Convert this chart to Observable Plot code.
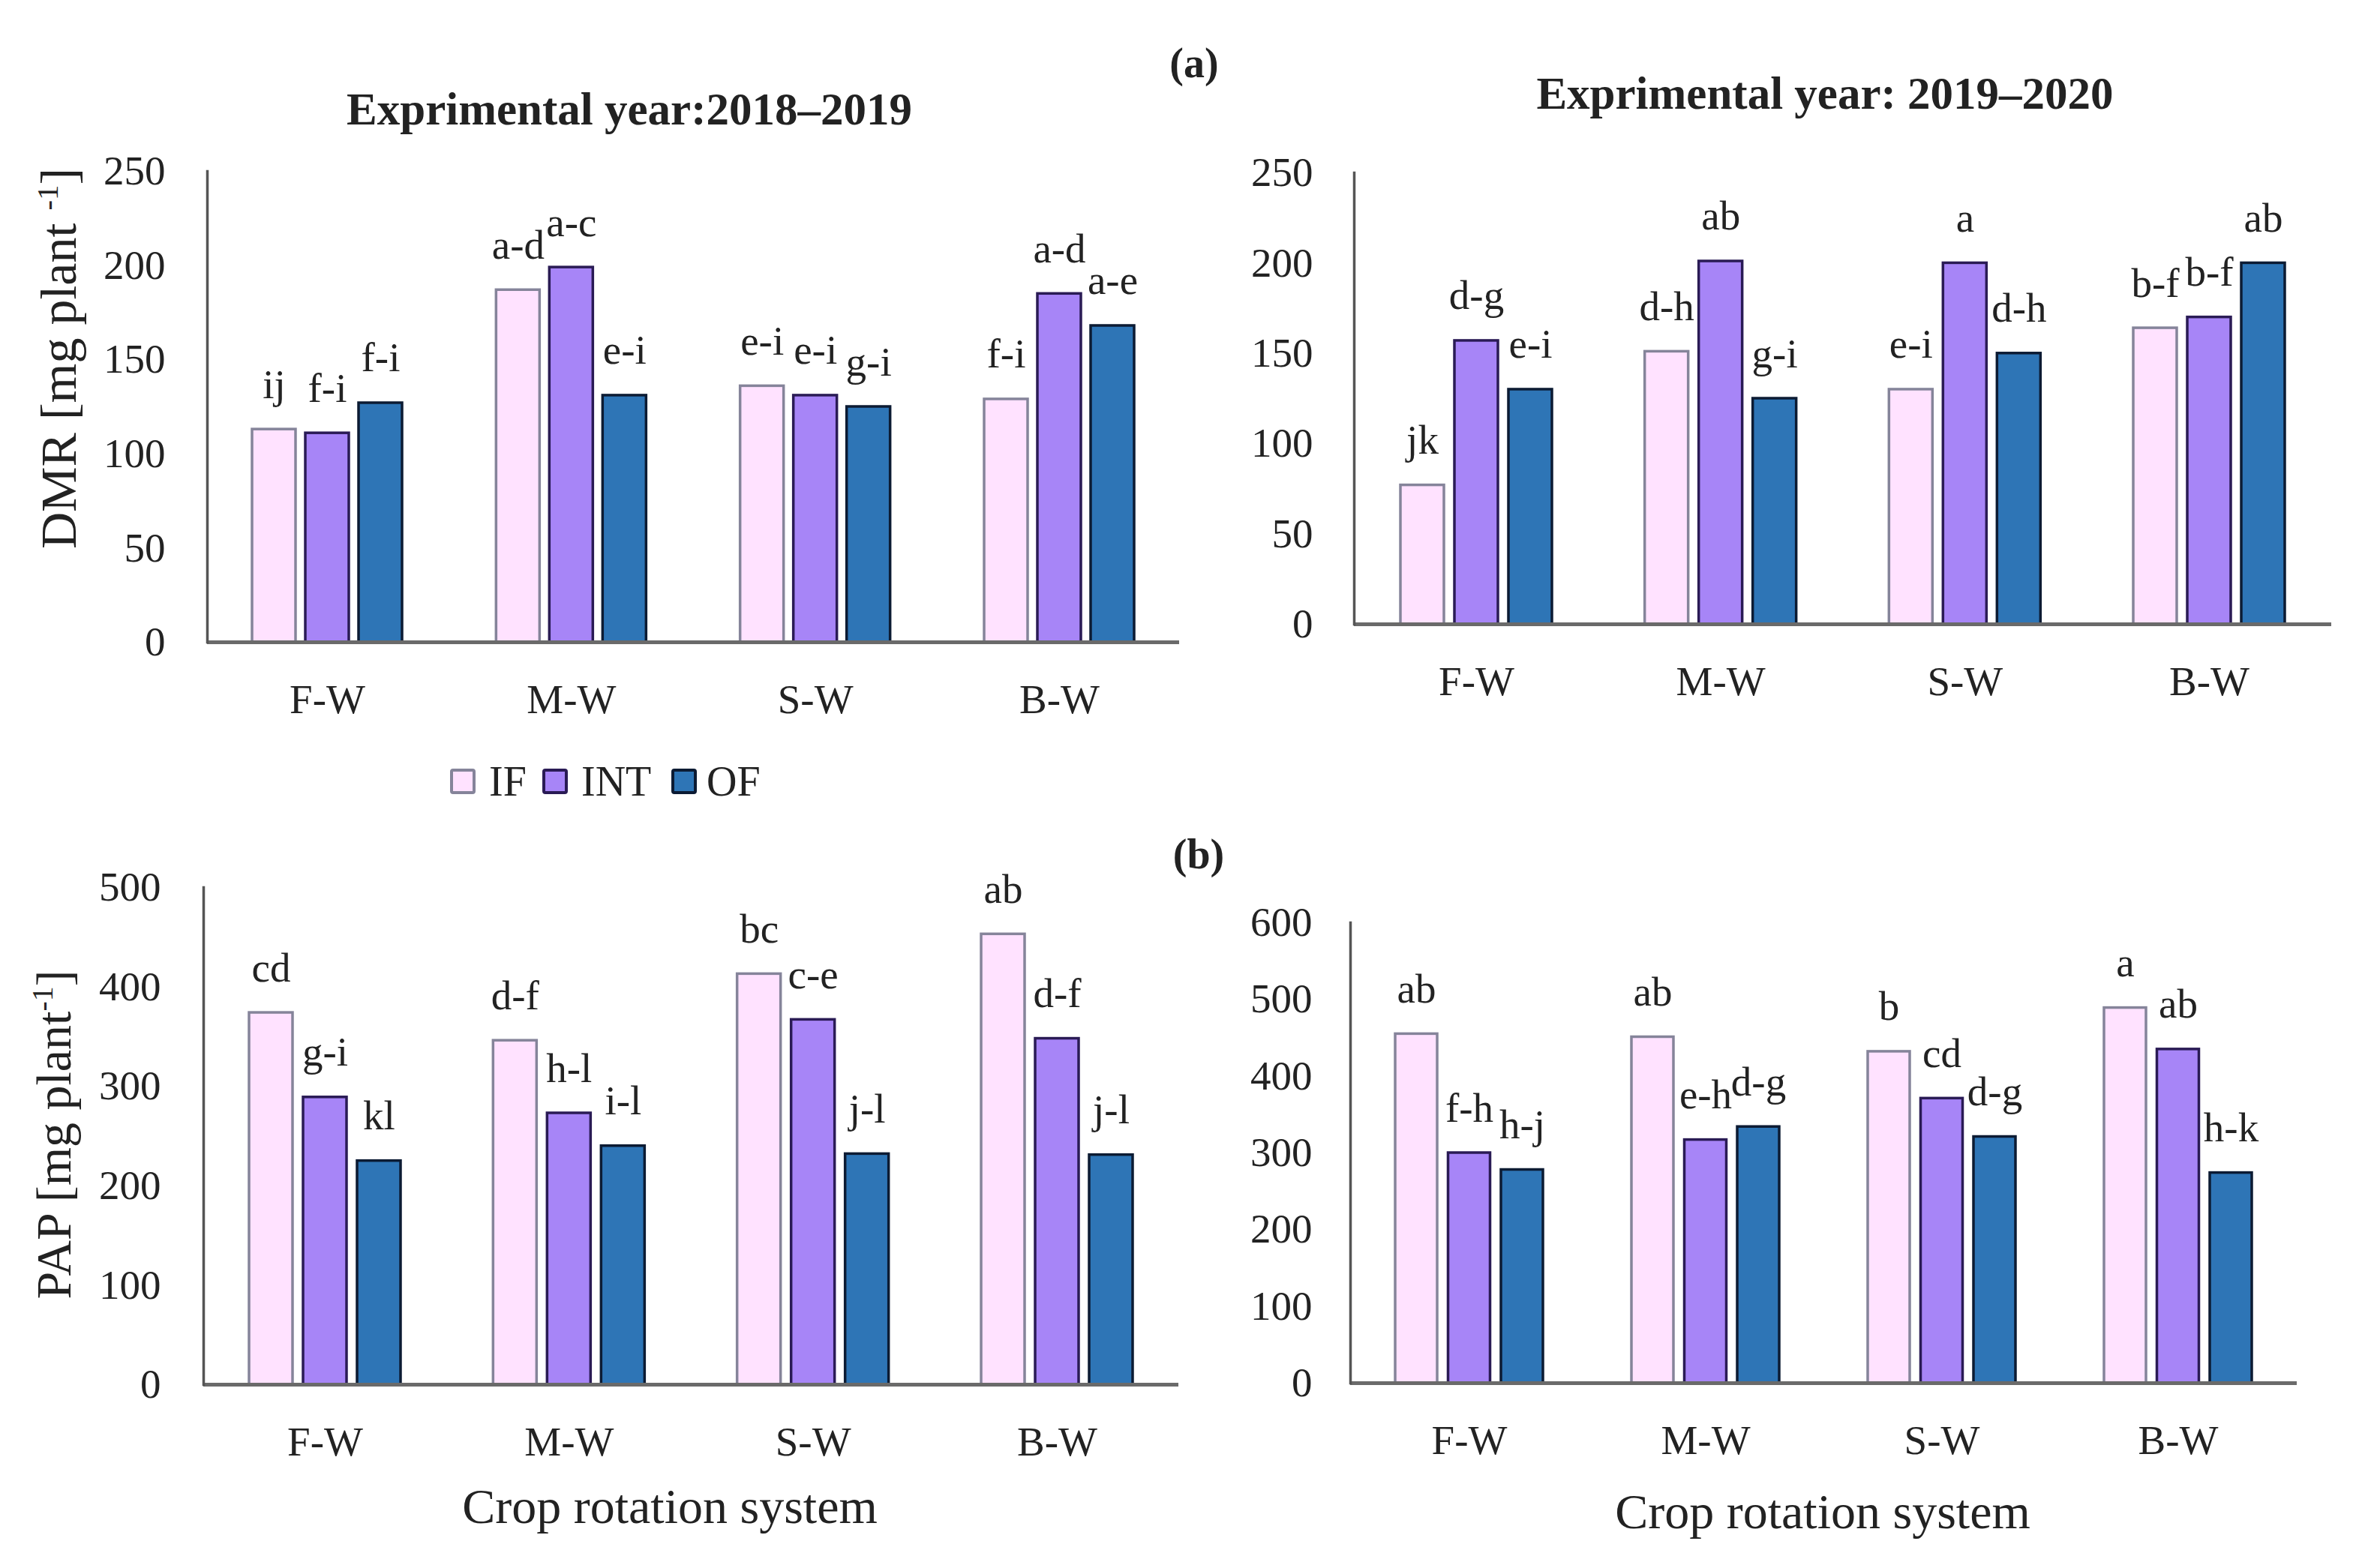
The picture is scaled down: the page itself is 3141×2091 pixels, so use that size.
<!DOCTYPE html>
<html><head><meta charset="utf-8">
<script src="https://cdn.jsdelivr.net/npm/d3@7"></script>
<script src="https://cdn.jsdelivr.net/npm/@observablehq/plot@0.6"></script>
<style>
html,body{margin:0;padding:0;background:#fff;}
#fig{position:relative;width:3141px;height:2091px;font-family:"Liberation Serif",serif;color:#222;overflow:hidden;background:#fff;}
.abs{position:absolute;white-space:nowrap;line-height:1;transform:translate(-50%,-50%);}
.rot{transform:translate(-50%,-50%) rotate(-90deg);}
.plot{position:absolute;}
.sw{position:absolute;width:34px;height:34px;box-sizing:border-box;border:4px solid #333;border-radius:4px;}
.lt{position:absolute;white-space:nowrap;line-height:1;transform:translateY(-50%);font-size:56px;}
sup{font-size:0.6em;vertical-align:0.6em;line-height:0;}
</style></head><body><div id="fig"></div>
<script>
// ---------- data ----------
const categories = ["F-W", "M-W", "S-W", "B-W"];
const treatments = ["IF", "INT", "OF"];

// (a) DMR, 2018-2019
const dmr1_IF  = [113, 187, 136, 129];
const dmr1_INT = [111, 199, 131, 185];
const dmr1_OF  = [127, 131, 125, 168];
const dmr1_IF_lab  = ["ij", "a-d", "e-i", "f-i"];
const dmr1_INT_lab = ["f-i", "a-c", "e-i", "a-d"];
const dmr1_OF_lab  = ["f-i", "e-i", "g-i", "a-e"];

// (a) DMR, 2019-2020
const dmr2_IF  = [77, 151, 130, 164];
const dmr2_INT = [157, 201, 200, 170];
const dmr2_OF  = [130, 125, 150, 200];
const dmr2_IF_lab  = ["jk", "d-h", "e-i", "b-f"];
const dmr2_INT_lab = ["d-g", "ab", "a", "b-f"];
const dmr2_OF_lab  = ["e-i", "g-i", "d-h", "ab"];

// (b) PAP, 2018-2019
const pap1_IF  = [374, 346, 413, 453];
const pap1_INT = [289, 273, 367, 348];
const pap1_OF  = [225, 240, 232, 231];
const pap1_IF_lab  = ["cd", "d-f", "bc", "ab"];
const pap1_INT_lab = ["g-i", "h-l", "c-e", "d-f"];
const pap1_OF_lab  = ["kl", "i-l", "j-l", "j-l"];

// (b) PAP, 2019-2020
const pap2_IF  = [455, 451, 432, 489];
const pap2_INT = [300, 317, 371, 435];
const pap2_OF  = [278, 334, 321, 274];
const pap2_IF_lab  = ["ab", "ab", "b", "a"];
const pap2_INT_lab = ["f-h", "e-h", "cd", "ab"];
const pap2_OF_lab  = ["h-j", "d-g", "d-g", "h-k"];

const dmrTicks = [0, 50, 100, 150, 200, 250];
const pap1Ticks = [0, 100, 200, 300, 400, 500];
const pap2Ticks = [0, 100, 200, 300, 400, 500, 600];

// ---------- styles ----------
const fills   = {IF: "#FFE2FF", INT: "#A785F7", OF: "#2E75B6"};
const strokes = {IF: "#85849a", INT: "#2a1b55", OF: "#0c1b33"};

const fig = document.getElementById("fig");

function rows(vals, labs) {
  return categories.map((c, i) => ({cat: c, value: vals[i], label: labs[i]}));
}

function panel(p) {
  const rangeW = p.width - p.ml - p.mr;
  const step = (rangeW - 2 * p.outer - p.bw) / 3;
  const pi = (step - p.bw) / step;
  const po = p.outer / step;
  const off = p.barW + p.gap;
  const spare = p.bw - p.barW;
  const series = [
    {k: "IF",  data: rows(p.IF, p.IFl),   il: 0,         ir: spare,     dx: -off},
    {k: "INT", data: rows(p.INT, p.INTl), il: spare / 2, ir: spare / 2, dx: 0},
    {k: "OF",  data: rows(p.OF, p.OFl),   il: spare,     ir: 0,         dx: off}
  ];
  const marks = [];
  for (const s of series) {
    marks.push(Plot.barY(s.data, {x: "cat", y: "value", fill: fills[s.k], stroke: strokes[s.k],
      strokeWidth: 3.5, insetLeft: s.il, insetRight: s.ir}));
  }
  for (const s of series) {
    marks.push(Plot.text(s.data, {x: "cat", y: "value", text: "label", dx: s.dx, dy: -42,
      lineAnchor: "bottom", fontSize: 55, fill: "#222"}));
  }
  marks.push(Plot.ruleY([0], {stroke: "#6a6a6a", strokeWidth: 5}));
  marks.push(Plot.frame({anchor: "left", stroke: "#555", strokeWidth: 3.5}));
  const chart = Plot.plot({
    width: p.width, height: p.height,
    marginLeft: p.ml, marginRight: p.mr, marginTop: p.mt, marginBottom: p.mb,
    style: {fontFamily: "'Liberation Serif', serif", fontSize: "55px", color: "#222", background: "transparent", overflow: "visible"},
    x: {type: "band", domain: categories, paddingInner: pi, paddingOuter: po, round: false,
        tickSize: 0, tickPadding: 55, label: null},
    y: {domain: [0, p.yMax], ticks: p.ticks, tickSize: 0, tickPadding: p.ytp, label: null},
    marks
  });
  chart.classList.add("plot");
  chart.style.left = p.left + "px";
  chart.style.top = p.top + "px";
  fig.appendChild(chart);
}

panel({left: 0, top: 0, width: 1600, height: 1000, ml: 276, mr: 28, mt: 228, mb: 144,
  outer: 60, bw: 200, barW: 58, gap: 13, yMax: 250, ticks: dmrTicks, ytp: 56,
  IF: dmr1_IF, INT: dmr1_INT, OF: dmr1_OF, IFl: dmr1_IF_lab, INTl: dmr1_INT_lab, OFl: dmr1_OF_lab});
panel({left: 1600, top: 0, width: 1541, height: 1000, ml: 205, mr: 33, mt: 230, mb: 168,
  outer: 62, bw: 202, barW: 58, gap: 14, yMax: 250, ticks: dmrTicks, ytp: 55,
  IF: dmr2_IF, INT: dmr2_INT, OF: dmr2_OF, IFl: dmr2_IF_lab, INTl: dmr2_INT_lab, OFl: dmr2_OF_lab});
panel({left: 0, top: 1050, width: 1600, height: 1041, ml: 271, mr: 29, mt: 133, mb: 245,
  outer: 61, bw: 202, barW: 58, gap: 14, yMax: 500, ticks: pap1Ticks, ytp: 57,
  IF: pap1_IF, INT: pap1_INT, OF: pap1_OF, IFl: pap1_IF_lab, INTl: pap1_INT_lab, OFl: pap1_OF_lab});
panel({left: 1600, top: 1050, width: 1541, height: 1041, ml: 200, mr: 79, mt: 180, mb: 247,
  outer: 60, bw: 197, barW: 56, gap: 14.5, yMax: 600, ticks: pap2Ticks, ytp: 51,
  IF: pap2_IF, INT: pap2_INT, OF: pap2_OF, IFl: pap2_IF_lab, INTl: pap2_INT_lab, OFl: pap2_OF_lab});

// ---------- text ----------
function addText(html, x, y, css, cls) {
  const d = document.createElement("div");
  d.className = cls || "abs";
  d.innerHTML = html;
  d.style.left = x + "px";
  d.style.top = y + "px";
  d.style.cssText += css;
  fig.appendChild(d);
  return d;
}
addText("(a)", 1592, 84, "font-size:56px;font-weight:bold;");
addText("(b)", 1598, 1139, "font-size:56px;font-weight:bold;");
addText("Exprimental year:2018\u20132019", 839, 145, "font-size:61px;font-weight:bold;");
addText("Exprimental year: 2019\u20132020", 2433, 124, "font-size:61px;font-weight:bold;");
addText("DMR [mg plant <sup>-1</sup>]", 78, 478, "font-size:68px;", "abs rot");
addText("PAP [mg plant<sup>-1</sup>]", 72, 1513, "font-size:66px;", "abs rot");
addText("Crop rotation system", 893, 2009, "font-size:66px;");
addText("Crop rotation system", 2430, 2016, "font-size:66px;");

// legend
const legendPos = {IF: [600, 652], INT: [723, 775], OF: [895, 942]};
for (const t of treatments) {
  const sw = document.createElement("div");
  sw.className = "sw";
  sw.style.left = legendPos[t][0] + "px";
  sw.style.top = "1025px";
  sw.style.background = fills[t];
  sw.style.borderColor = strokes[t];
  fig.appendChild(sw);
  const lt = document.createElement("div");
  lt.className = "lt";
  lt.textContent = t;
  lt.style.left = legendPos[t][1] + "px";
  lt.style.top = "1042px";
  fig.appendChild(lt);
}
</script></body></html>
